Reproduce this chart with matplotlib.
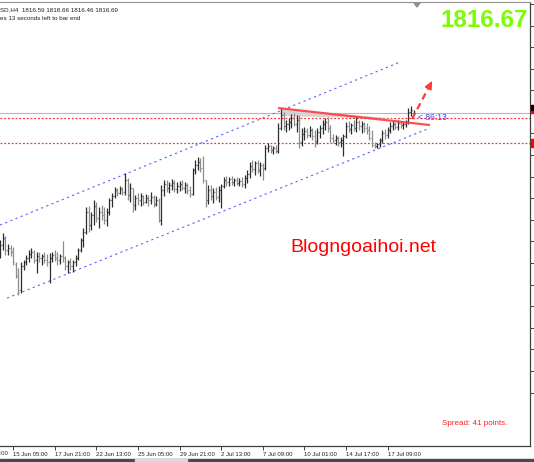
import matplotlib
matplotlib.use("Agg")
import matplotlib.pyplot as plt
from matplotlib.collections import LineCollection
from matplotlib.patches import Polygon, Rectangle
import numpy as np

# ---------------- data (XAUUSD H4) ----------------
opens = [1729.2, 1735.4, 1739.7, 1732.3, 1733.5, 1731.1, 1723.7, 1716.3, 1707.7, 1722.4,
         1724.9, 1727.4, 1729.8, 1731.1, 1726.1, 1728.6, 1727.4, 1728.6, 1726.1, 1724.9,
         1727.4, 1729.2, 1727.4, 1726.1, 1728.6, 1727.4, 1722.4, 1724.9, 1722.4, 1724.9,
         1727.4, 1732.3, 1738.5, 1743.4, 1755.7, 1747.7, 1753.9, 1759.4, 1752.0, 1755.7,
         1753.9, 1750.8, 1755.7, 1763.1, 1765.6, 1769.3, 1767.4, 1769.9, 1768.0, 1775.4,
         1766.2, 1770.5, 1760.0, 1764.3, 1763.1, 1765.6, 1761.9, 1764.3, 1763.1, 1764.9,
         1760.6, 1763.1, 1750.8, 1769.3, 1773.0, 1770.5, 1772.3, 1773.6, 1769.9, 1771.7,
         1773.0, 1770.5, 1772.3, 1769.3, 1766.8, 1781.6, 1784.7, 1786.5, 1782.8, 1775.4,
         1763.1, 1769.3, 1765.6, 1768.0, 1764.9, 1769.3, 1771.7, 1775.4, 1774.2, 1776.0,
         1774.2, 1775.4, 1773.6, 1774.8, 1773.0, 1776.7, 1779.1, 1784.0, 1782.2, 1785.9,
         1781.6, 1784.7, 1782.8, 1795.1, 1796.4, 1793.9, 1795.1, 1793.3, 1807.5, 1815.5,
         1808.7, 1809.9, 1811.1, 1813.6, 1809.9, 1812.4, 1798.8, 1803.8, 1805.6, 1803.1,
         1806.2, 1802.5, 1799.4, 1805.0, 1807.5, 1809.9, 1811.1, 1807.5, 1801.3, 1800.1,
         1801.3, 1798.8, 1800.1, 1802.5, 1808.7, 1806.8, 1809.3, 1807.5, 1811.1, 1808.7,
         1809.9, 1807.5, 1806.2, 1801.3, 1797.0, 1796.4, 1797.6, 1800.1, 1804.4, 1803.1,
         1806.2, 1808.7, 1809.9, 1808.1, 1810.5, 1809.3, 1809.9, 1811.1, 1817.3, 1816.59]

highs = [1738.5, 1742.8, 1740.9, 1736.0, 1735.4, 1734.1, 1724.9, 1721.2, 1724.9, 1726.1,
         1729.2, 1732.3, 1733.5, 1732.3, 1731.1, 1731.1, 1729.8, 1731.1, 1729.8, 1730.5,
         1731.1, 1732.3, 1731.1, 1729.8, 1737.8, 1728.6, 1726.1, 1727.4, 1726.1, 1729.2,
         1733.5, 1739.7, 1745.9, 1758.8, 1759.4, 1755.7, 1763.1, 1761.9, 1758.8, 1760.0,
         1758.8, 1758.2, 1764.3, 1767.4, 1771.1, 1770.5, 1771.7, 1771.1, 1779.7, 1776.7,
         1773.6, 1770.5, 1766.2, 1767.4, 1767.4, 1766.2, 1766.8, 1766.2, 1768.0, 1766.2,
         1765.6, 1764.3, 1772.3, 1775.4, 1775.4, 1774.2, 1776.0, 1775.4, 1774.2, 1774.8,
         1775.4, 1774.2, 1773.6, 1771.7, 1782.8, 1787.7, 1789.6, 1789.0, 1790.2, 1775.4,
         1772.3, 1772.3, 1770.5, 1771.1, 1771.7, 1773.0, 1777.3, 1777.9, 1777.3, 1777.9,
         1776.7, 1777.3, 1776.7, 1777.3, 1778.5, 1781.6, 1786.5, 1787.7, 1787.1, 1787.7,
         1786.5, 1785.9, 1797.0, 1798.2, 1797.0, 1796.4, 1797.0, 1810.5, 1819.8, 1817.3,
         1812.4, 1813.6, 1816.1, 1816.7, 1815.5, 1815.5, 1807.5, 1808.1, 1807.5, 1808.7,
         1807.5, 1806.2, 1807.5, 1809.3, 1812.4, 1813.6, 1814.2, 1809.3, 1803.8, 1803.1,
         1802.5, 1801.9, 1803.8, 1811.1, 1811.8, 1810.5, 1812.4, 1814.2, 1812.4, 1811.8,
         1811.1, 1810.5, 1808.7, 1806.2, 1798.8, 1798.2, 1801.3, 1806.2, 1806.8, 1808.1,
         1811.1, 1811.8, 1811.1, 1812.4, 1811.8, 1811.1, 1812.4, 1819.8, 1821.0, 1818.66]

lows = [1727.4, 1732.3, 1729.2, 1729.2, 1728.6, 1723.1, 1715.1, 1704.6, 1705.8, 1720.0,
        1723.1, 1724.9, 1727.4, 1724.3, 1718.1, 1724.9, 1723.1, 1724.3, 1722.4, 1712.0,
        1724.9, 1725.5, 1723.1, 1723.7, 1724.9, 1720.0, 1718.1, 1720.0, 1718.7, 1722.4,
        1726.1, 1731.1, 1734.1, 1742.2, 1743.4, 1744.6, 1747.7, 1749.5, 1745.9, 1750.8,
        1748.3, 1747.1, 1753.9, 1758.8, 1764.3, 1765.6, 1766.8, 1766.2, 1766.2, 1763.1,
        1761.9, 1755.7, 1756.9, 1760.0, 1759.4, 1760.0, 1761.3, 1759.4, 1760.6, 1758.8,
        1759.4, 1749.5, 1747.7, 1765.6, 1768.0, 1767.4, 1769.3, 1768.0, 1767.4, 1768.6,
        1769.3, 1767.4, 1766.8, 1764.9, 1766.2, 1779.1, 1781.6, 1780.3, 1773.6, 1758.8,
        1760.6, 1763.1, 1761.3, 1763.1, 1761.9, 1758.2, 1770.5, 1771.7, 1771.7, 1772.3,
        1771.7, 1772.3, 1771.7, 1771.1, 1770.5, 1773.6, 1776.7, 1780.3, 1778.5, 1779.7,
        1777.9, 1775.4, 1781.6, 1792.7, 1792.1, 1791.4, 1792.1, 1792.1, 1806.2, 1806.2,
        1805.0, 1806.2, 1807.5, 1808.7, 1805.0, 1795.1, 1796.4, 1800.1, 1801.3, 1801.9,
        1800.1, 1795.7, 1797.6, 1801.3, 1803.8, 1806.2, 1805.0, 1798.8, 1798.2, 1797.0,
        1796.4, 1795.7, 1790.2, 1801.3, 1805.0, 1803.8, 1805.6, 1805.0, 1806.2, 1804.4,
        1805.0, 1803.8, 1800.1, 1795.7, 1795.1, 1795.1, 1795.7, 1798.2, 1800.7, 1801.3,
        1804.4, 1806.2, 1806.8, 1806.2, 1807.5, 1806.8, 1808.1, 1809.9, 1814.8, 1816.46]

closes = [1735.4, 1739.7, 1732.3, 1733.5, 1731.1, 1724.9, 1716.3, 1707.7, 1722.4, 1724.9,
          1727.4, 1729.8, 1731.1, 1726.1, 1728.6, 1727.4, 1728.6, 1726.1, 1724.9, 1727.4,
          1729.2, 1727.4, 1726.1, 1728.6, 1727.4, 1722.4, 1724.9, 1722.4, 1724.9, 1727.4,
          1732.3, 1738.5, 1743.4, 1755.7, 1747.7, 1753.9, 1759.4, 1752.0, 1755.7, 1753.9,
          1750.8, 1755.7, 1763.1, 1765.6, 1769.3, 1767.4, 1769.9, 1768.0, 1775.4, 1766.2,
          1770.5, 1760.0, 1764.3, 1763.1, 1765.6, 1761.9, 1764.3, 1763.1, 1764.9, 1760.6,
          1763.1, 1750.8, 1769.3, 1773.0, 1770.5, 1772.3, 1773.6, 1769.9, 1771.7, 1773.0,
          1770.5, 1772.3, 1769.3, 1766.8, 1781.6, 1784.7, 1786.5, 1782.8, 1775.4, 1763.1,
          1769.3, 1765.6, 1768.0, 1764.9, 1769.3, 1771.7, 1775.4, 1774.2, 1776.0, 1774.2,
          1775.4, 1773.6, 1774.8, 1773.0, 1776.7, 1779.1, 1784.0, 1782.2, 1785.9, 1781.6,
          1784.7, 1782.8, 1795.1, 1796.4, 1793.9, 1795.1, 1793.3, 1807.5, 1815.5, 1808.7,
          1809.9, 1811.1, 1813.6, 1809.9, 1812.4, 1798.8, 1803.8, 1805.6, 1803.1, 1806.2,
          1802.5, 1799.4, 1805.0, 1807.5, 1809.9, 1811.1, 1807.5, 1801.3, 1800.1, 1801.3,
          1798.8, 1800.1, 1802.5, 1808.7, 1806.8, 1809.3, 1807.5, 1811.1, 1808.7, 1809.9,
          1807.5, 1806.2, 1801.3, 1797.0, 1796.4, 1797.6, 1800.1, 1804.4, 1803.1, 1806.2,
          1808.7, 1809.9, 1808.1, 1810.5, 1809.3, 1809.9, 1811.1, 1817.3, 1818.5, 1816.69]

time_tick_bars = [-11, 5, 21, 37, 53, 69, 85, 101, 117, 133, 149]
time_tick_labels = ["12 Jun 13:00", "15 Jun 05:00", "17 Jun 21:00", "22 Jun 13:00",
                    "25 Jun 05:00", "29 Jun 21:00", "2 Jul 13:00", "7 Jul 09:00",
                    "10 Jul 01:00", "14 Jul 17:00", "17 Jul 09:00"]

bid_price = 1816.67
level_lines = [1813.6, 1798.2]
upper_channel = [(-0.08, 1747.7), (153.8, 1848.1)]
lower_channel = [(2.6, 1702.7), (165.3, 1807.5)]
trend_line = [(106.85, 1819.8), (165.3, 1809.3)]
wedge = [(108.0, 1819.2), (151.8, 1813.3), (108.0, 1814.8)]
arrow_start = (158.4, 1813.0)
arrow_end = (166.1, 1836.4)

# ---------------- figure ----------------
W, H = 534, 462
fig = plt.figure(figsize=(W / 100, H / 100), dpi=100)
fig.patch.set_facecolor("white")
ax = fig.add_axes([0, 16 / H, 530 / W, 444 / H])
ax.set_facecolor("white")
ax.set_xlim(-0.077, 203.77)
ax.set_ylim(1611.6, 1885.1)

FONT = ["Liberation Sans", "DejaVu Sans"]

# horizontal lines
ax.axhline(bid_price, color="#b8b8b8", lw=0.8, zorder=1)
for lv in level_lines:
    ax.axhline(lv, color="#ff3030", lw=0.9, ls=(0, (1.5, 1.5)), zorder=1)

# channel
for seg in (upper_channel, lower_channel):
    ax.plot([seg[0][0], seg[1][0]], [seg[0][1], seg[1][1]], color="#6060ff",
            lw=0.8, ls=(0, (2, 3)), zorder=2)

# wedge
ax.add_patch(Polygon(wedge, closed=True, facecolor="#d4d4d4", edgecolor="none", zorder=2))

# bars
segs_up, segs_dn = [], []
for i, (o, h, l, c) in enumerate(zip(opens, highs, lows, closes)):
    s = [[(i, l), (i, h)], [(i - 0.4, o), (i, o)], [(i, c), (i + 0.4, c)]]
    (segs_up if c >= o else segs_dn).extend(s)
ax.add_collection(LineCollection(segs_dn, colors="#8c8c8c", linewidths=0.9,
                                 antialiaseds=True, zorder=3))
ax.add_collection(LineCollection(segs_up, colors="#2c2c2c", linewidths=0.9,
                                 antialiaseds=True, zorder=3))

# trend line
ax.plot([trend_line[0][0], trend_line[1][0]], [trend_line[0][1], trend_line[1][1]],
        color="#ff3c3c", lw=1.6, alpha=0.9, solid_capstyle="butt", zorder=4)

# dashed arrow
ax.plot([arrow_start[0], arrow_end[0]], [arrow_start[1], arrow_end[1]],
        color="#ff3c3c", lw=1.6, ls=(0, (3, 2)), zorder=4)
pre = (arrow_end[0] - 0.12 * (arrow_end[0] - arrow_start[0]),
       arrow_end[1] - 0.12 * (arrow_end[1] - arrow_start[1]))
ax.annotate("", xy=arrow_end, xytext=pre,
            arrowprops=dict(arrowstyle="-|>,head_length=0.45,head_width=0.22",
                            color="#ff3c3c", lw=1.2), zorder=4)

# countdown text
ax.text(160.7, 1814.2, "< 86:13", color="#4848ff", fontsize=6.2, family=FONT,
        va="center", ha="left", zorder=5)

# axes styling
ax.spines["left"].set_visible(False)
ax.spines["top"].set_color("#909090")
ax.spines["top"].set_linewidth(0.8)
ax.spines["right"].set_color("#404040")
ax.spines["bottom"].set_color("#404040")
ax.spines["right"].set_linewidth(0.9)
ax.spines["bottom"].set_linewidth(0.9)

vis = [(b, t) for b, t in zip(time_tick_bars, time_tick_labels) if b >= 0]
ax.set_xticks([b for b, _ in vis])
ax.set_xticklabels([t for _, t in vis], fontsize=4.3, family=FONT, ha="left",
                   color="#202020")
ax.tick_params(axis="x", direction="out", length=3, width=0.7, color="#404040", pad=1.5)
# first label, partly scrolled out of view on the left
first_px = 0.2 + 2.6 * time_tick_bars[0]
fig.text((first_px + 1) / W, 1 - 455 / H, time_tick_labels[0], fontsize=4.3, family=FONT,
         ha="left", va="baseline", color="#202020")

ax.yaxis.tick_right()
ax.set_yticks(np.arange(1644.5, 1885.0, 13.3))
ax.set_yticklabels([])
ax.tick_params(axis="y", direction="out", length=3, width=0.7, color="#404040")

# right edge price markers (cut off)
fig.patches.append(Rectangle((531 / W, 1 - 113 / H), 3 / W, 7 / H,
                             transform=fig.transFigure, color="#ff0000"))
fig.patches.append(Rectangle((531 / W, 1 - 110 / H), 3 / W, 5 / H,
                             transform=fig.transFigure, color="#000000"))
fig.patches.append(Rectangle((531 / W, 1 - 147 / H), 3 / W, 8 / H,
                             transform=fig.transFigure, color="#ff0000"))

# bottom window strip
fig.patches.append(Rectangle((0, 0), 1, 3 / H, transform=fig.transFigure, color="#4a4a4a"))
fig.patches.append(Rectangle((135 / W, 0), 52 / W, 3 / H, transform=fig.transFigure,
                             color="#d8d8d8"))

# header text
fig.text(0 / W, 1 - 11 / H, "SD,H4  1816.59 1818.66 1816.46 1816.69", fontsize=4.5,
         family=FONT, color="#202020", ha="left", va="baseline")
fig.text(0 / W, 1 - 20 / H, "es 13 seconds left to bar end", fontsize=4.5,
         family=FONT, color="#202020", ha="left", va="baseline")
# shift marker
fig.patches.append(Polygon([(414 / W, 1 - 3 / H), (420 / W, 1 - 3 / H), (417 / W, 1 - 7 / H)],
                           closed=True, transform=fig.transFigure, color="#909090"))

# big price
fig.text(440 / W, 1 - 27 / H, "1816.67", fontsize=17.5, fontweight="bold",
         family=FONT, color="#7CFC00", ha="left", va="baseline")

# watermark
fig.text(290 / W, 1 - 252 / H, "Blogngoaihoi.net", fontsize=14, family=FONT,
         color="#ff0000", ha="left", va="baseline")

# spread
fig.text(442 / W, 1 - 425 / H, "Spread: 41 points.", fontsize=5.8, family=FONT,
         color="#ff2020", ha="left", va="baseline")

fig.savefig("out.png", dpi=100, facecolor="white")
